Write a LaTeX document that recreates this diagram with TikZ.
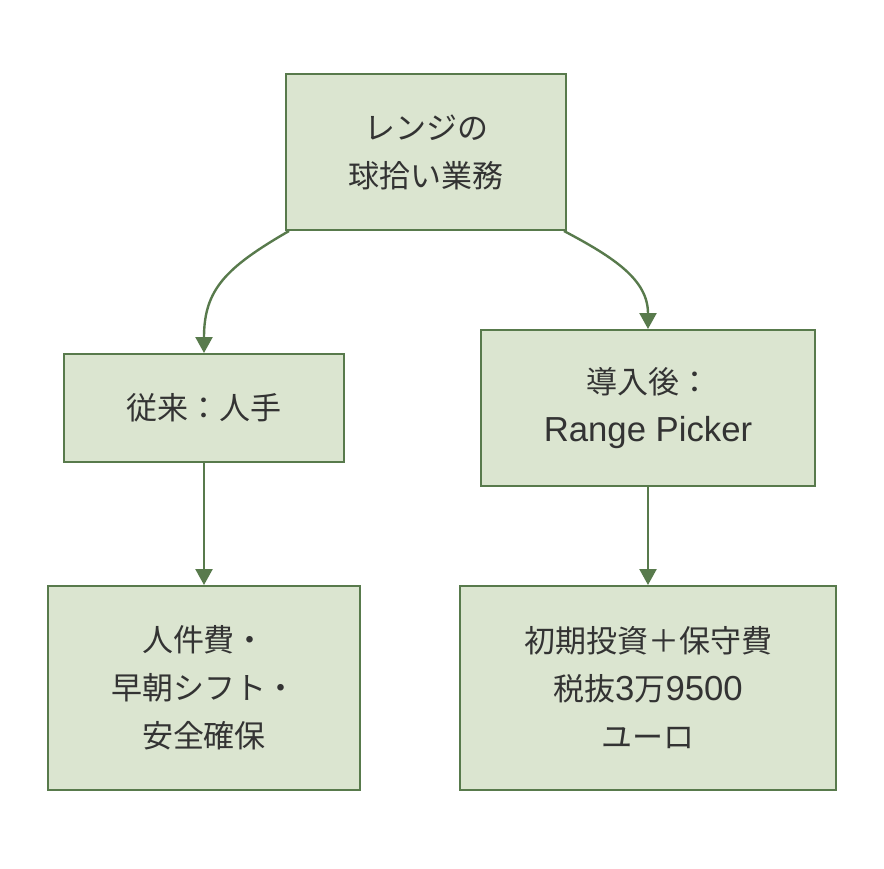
\documentclass[tikz,border=0pt]{standalone}
\usepackage{fontspec}
\setmainfont{Noto Sans CJK JP}
\newfontfamily\lat[Scale=1.12]{Liberation Sans}
\usetikzlibrary{arrows.meta}
\definecolor{boxfill}{HTML}{DBE5D0}
\definecolor{boxline}{HTML}{587A4C}
\definecolor{txt}{HTML}{333333}
\tikzset{
  box/.style={draw=boxline, fill=boxfill, line width=1pt, rectangle, inner sep=0pt,
    align=center, text=txt, font=\fontsize{15.5}{24}\selectfont},
  link/.style={draw=boxline, line width=1.2pt, -{Triangle[length=8pt,width=8.5pt]}},
}
\begin{document}
\begin{tikzpicture}[x=0.5pt,y=-0.5pt]
\useasboundingbox (0,0) rectangle (884,868);
\node[box, minimum width=140pt, minimum height=78pt] (top) at (426,152) {レンジの\\球拾い業務};
\node[box, minimum width=140pt, minimum height=54pt] (lm) at (204,408) {従来：人手};
\node[box, minimum width=167pt, minimum height=78pt] (rm) at (648,408) {導入後：\\{\lat Range Picker}};
\node[box, minimum width=156pt, minimum height=102pt] (lb) at (204,688) {人件費・\\早朝シフト・\\安全確保};
\node[box, minimum width=188pt, minimum height=102pt] (rb) at (648,688) {初期投資＋保守費\\税抜{\lat 3}万{\lat 9500}\\ユーロ};
\draw[link] ([xshift=2pt]top.south west) .. controls (225,268) and (204,290) .. (lm.north);
\draw[link] ([xshift=-1.5pt]top.south east) .. controls (615,258) and (648,280) .. (rm.north);
\draw[link] (lm.south) -- (lb.north);
\draw[link] (rm.south) -- (rb.north);
\end{tikzpicture}
\end{document}
